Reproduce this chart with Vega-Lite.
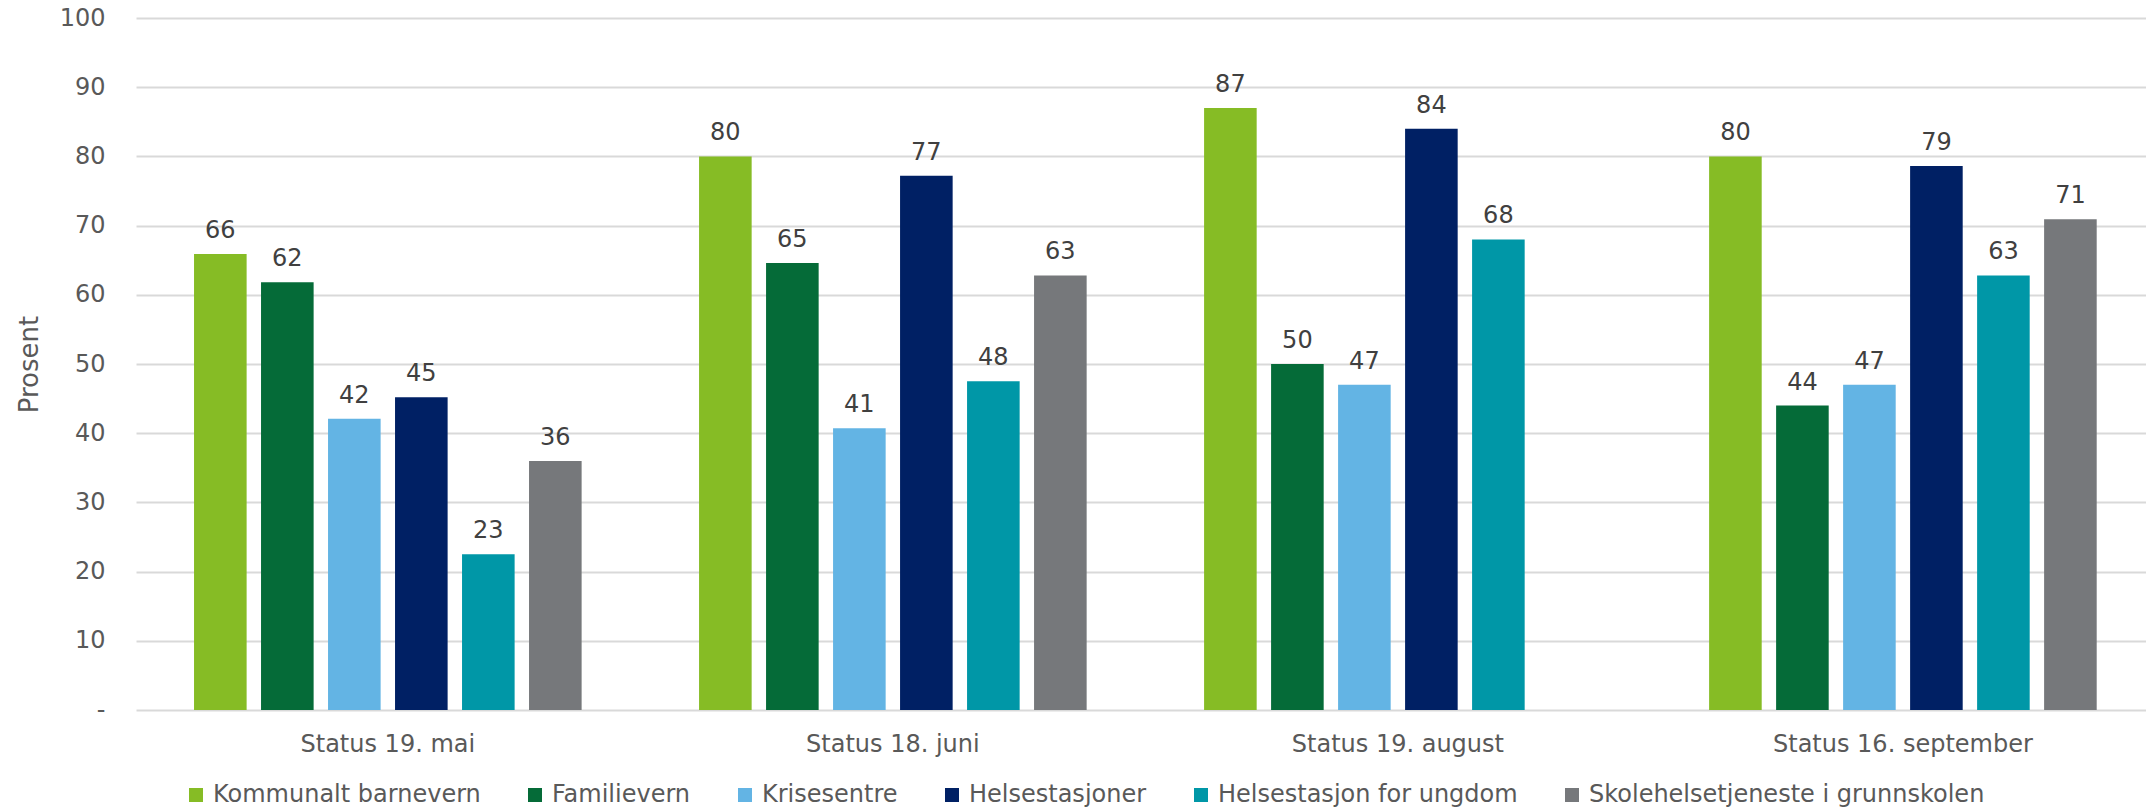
{
  "$schema": "https://vega.github.io/schema/vega-lite/v6.json",
  "width": 2010,
  "height": 692,
  "autosize": {"type": "none"},
  "padding": {"left": 136, "top": 18, "right": 0, "bottom": 101},
  "background": "white",
  "config": {
    "view": {"stroke": null},
    "font": "DejaVu Sans",
    "axis": {"labelFont": "DejaVu Sans", "titleFont": "DejaVu Sans"},
    "legend": {"labelFont": "DejaVu Sans"}
  },
  "data": {
    "values": [
      {"status": "Status 19. mai", "kategori": "Kommunalt barnevern", "verdi": 65.9},
      {"status": "Status 19. mai", "kategori": "Familievern", "verdi": 61.8},
      {"status": "Status 19. mai", "kategori": "Krisesentre", "verdi": 42.1},
      {"status": "Status 19. mai", "kategori": "Helsestasjoner", "verdi": 45.2},
      {"status": "Status 19. mai", "kategori": "Helsestasjon for ungdom", "verdi": 22.5},
      {"status": "Status 19. mai", "kategori": "Skolehelsetjeneste i grunnskolen", "verdi": 36.0},
      {"status": "Status 18. juni", "kategori": "Kommunalt barnevern", "verdi": 80.0},
      {"status": "Status 18. juni", "kategori": "Familievern", "verdi": 64.6},
      {"status": "Status 18. juni", "kategori": "Krisesentre", "verdi": 40.7},
      {"status": "Status 18. juni", "kategori": "Helsestasjoner", "verdi": 77.2},
      {"status": "Status 18. juni", "kategori": "Helsestasjon for ungdom", "verdi": 47.5},
      {"status": "Status 18. juni", "kategori": "Skolehelsetjeneste i grunnskolen", "verdi": 62.8},
      {"status": "Status 19. august", "kategori": "Kommunalt barnevern", "verdi": 87.0},
      {"status": "Status 19. august", "kategori": "Familievern", "verdi": 50.0},
      {"status": "Status 19. august", "kategori": "Krisesentre", "verdi": 47.0},
      {"status": "Status 19. august", "kategori": "Helsestasjoner", "verdi": 84.0},
      {"status": "Status 19. august", "kategori": "Helsestasjon for ungdom", "verdi": 68.0},
      {"status": "Status 16. september", "kategori": "Kommunalt barnevern", "verdi": 80.0},
      {"status": "Status 16. september", "kategori": "Familievern", "verdi": 44.0},
      {"status": "Status 16. september", "kategori": "Krisesentre", "verdi": 47.0},
      {"status": "Status 16. september", "kategori": "Helsestasjoner", "verdi": 78.6},
      {"status": "Status 16. september", "kategori": "Helsestasjon for ungdom", "verdi": 62.8},
      {"status": "Status 16. september", "kategori": "Skolehelsetjeneste i grunnskolen", "verdi": 70.9}
    ]
  },
  "encoding": {
    "x": {
      "field": "status",
      "type": "nominal",
      "sort": ["Status 19. mai", "Status 18. juni", "Status 19. august", "Status 16. september"],
      "scale": {"paddingInner": 0.204, "paddingOuter": 0.092, "align": 0.547},
      "axis": {
        "title": null,
        "domain": false,
        "ticks": false,
        "tickSize": 0,
        "grid": false,
        "labelAngle": 0,
        "labelFontSize": 24,
        "labelColor": "#595959",
        "labelBaseline": "alphabetic",
        "labelPadding": 41.5,
        "labelLimit": 0
      }
    },
    "xOffset": {
      "field": "kategori",
      "type": "nominal",
      "scale": {
        "domain": ["Kommunalt barnevern", "Familievern", "Krisesentre", "Helsestasjoner", "Helsestasjon for ungdom", "Skolehelsetjeneste i grunnskolen"],
        "paddingInner": 0.215,
        "paddingOuter": 0.1075
      }
    },
    "y": {
      "field": "verdi",
      "type": "quantitative",
      "scale": {"domain": [0, 100], "nice": false},
      "axis": {
        "title": "Prosent",
        "titleFontSize": 26,
        "titleFontWeight": "normal",
        "titleColor": "#595959",
        "titleAngle": -90,
        "titleX": -99,
        "titleY": 346,
        "titleAlign": "center",
        "titleBaseline": "alphabetic",
        "values": [0, 10, 20, 30, 40, 50, 60, 70, 80, 90, 100],
        "labelExpr": "datum.value == 0 ? '-\u00a0\u00a0' : datum.label",
        "labelFontSize": 24,
        "labelColor": "#595959",
        "labelPadding": 31,
        "domain": false,
        "ticks": false,
        "tickSize": 0,
        "grid": true,
        "gridColor": "#d9d9d9",
        "gridWidth": 2
      }
    }
  },
  "layer": [
    {
      "mark": {"type": "bar"},
      "encoding": {
        "color": {
          "field": "kategori",
          "type": "nominal",
          "scale": {
            "domain": ["Kommunalt barnevern", "Familievern", "Krisesentre", "Helsestasjoner", "Helsestasjon for ungdom", "Skolehelsetjeneste i grunnskolen"],
            "range": ["#86bc25", "#056b38", "#63b4e4", "#002064", "#0097a7", "#76787b"]
          },
          "legend": {
            "title": null,
            "orient": "none",
            "direction": "horizontal",
            "legendX": 48,
            "legendY": 765,
            "padding": 0,
            "symbolType": "square",
            "symbolSize": 196,
            "symbolStrokeWidth": 0,
            "symbolOpacity": 1,
            "labelFontSize": 24,
            "labelColor": "#595959",
            "labelLimit": 0,
            "labelOffset": 5,
            "columnPadding": 42
          }
        }
      }
    },
    {
      "mark": {"type": "text", "baseline": "alphabetic", "dy": -16, "fontSize": 24, "color": "#404040"},
      "encoding": {
        "text": {"field": "verdi", "type": "quantitative", "format": ".0f"}
      }
    }
  ]
}
